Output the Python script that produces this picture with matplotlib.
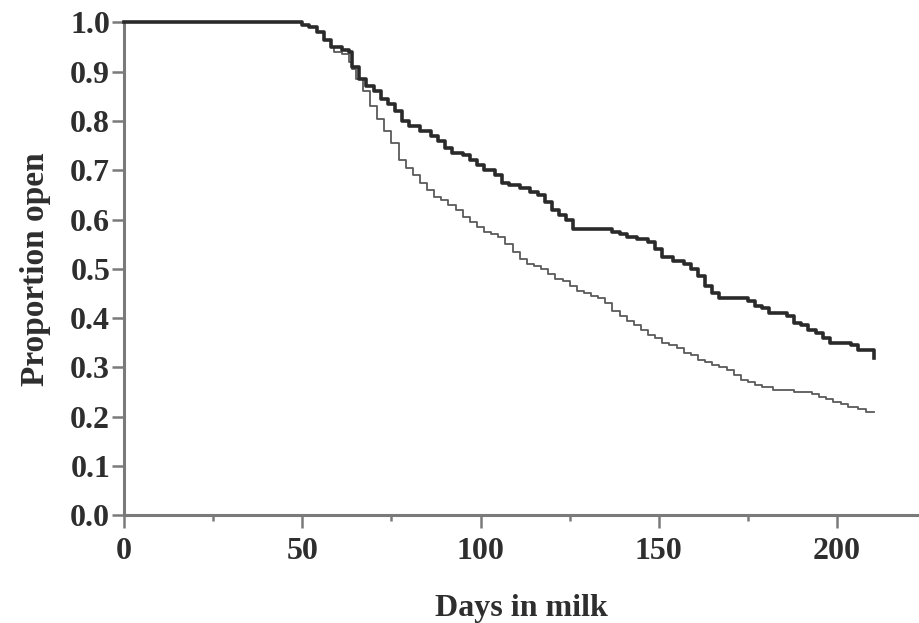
import matplotlib
matplotlib.use("Agg")
import matplotlib.pyplot as plt
from matplotlib.ticker import MultipleLocator

# Kaplan-Meier style curves (days in milk, proportion open)
thick_days = [0, 48, 50, 52, 54, 56, 58, 61, 63, 64, 66, 68, 70, 72, 74, 76, 78, 80,
              83, 86, 88, 90, 92, 95, 97, 99, 101, 104, 106, 108, 111, 114, 116, 118,
              120, 122, 124, 126, 129, 132, 135, 137, 139, 141, 144, 147, 149, 151,
              154, 157, 159, 161, 163, 165, 167, 170, 173, 175, 177, 179, 181, 184,
              186, 188, 190, 192, 194, 196, 198, 200, 202, 204, 206, 210, 210.5]
thick_prop = [1.0, 1.0, 0.995, 0.99, 0.98, 0.965, 0.95, 0.945, 0.94, 0.91, 0.885, 0.87,
              0.86, 0.845, 0.835, 0.82, 0.80, 0.79, 0.78, 0.77, 0.76, 0.745, 0.735,
              0.73, 0.72, 0.71, 0.70, 0.69, 0.675, 0.67, 0.665, 0.655, 0.65, 0.635,
              0.62, 0.61, 0.60, 0.58, 0.58, 0.58, 0.58, 0.575, 0.57, 0.565, 0.56,
              0.555, 0.54, 0.525, 0.515, 0.51, 0.50, 0.485, 0.465, 0.45, 0.44, 0.44,
              0.44, 0.435, 0.425, 0.42, 0.41, 0.41, 0.405, 0.39, 0.385, 0.375, 0.37,
              0.36, 0.35, 0.35, 0.35, 0.345, 0.335, 0.335, 0.32]

thin_days = [0, 48, 50, 52, 54, 56, 58, 59, 61, 63, 64, 65, 67, 69, 71, 73, 75, 77, 79,
             81, 83, 85, 87, 89, 91, 93, 95, 97, 99, 101, 103, 105, 107, 109, 111, 113,
             115, 117, 119, 121, 123, 125, 127, 129, 131, 133, 135, 137, 139, 141, 143,
             145, 147, 149, 151, 153, 155, 157, 159, 161, 163, 165, 167, 169, 171, 173,
             175, 177, 179, 182, 185, 188, 191, 193, 195, 197, 199, 201, 203, 206, 208,
             210.5]
thin_prop = [1.0, 1.0, 0.995, 0.99, 0.98, 0.965, 0.95, 0.94, 0.935, 0.92, 0.905, 0.885,
             0.86, 0.83, 0.805, 0.78, 0.755, 0.72, 0.705, 0.69, 0.675, 0.66, 0.645,
             0.64, 0.63, 0.62, 0.605, 0.595, 0.585, 0.575, 0.57, 0.565, 0.55, 0.535,
             0.52, 0.51, 0.505, 0.50, 0.49, 0.48, 0.475, 0.465, 0.455, 0.45, 0.445,
             0.44, 0.43, 0.415, 0.405, 0.395, 0.385, 0.375, 0.365, 0.36, 0.35, 0.345,
             0.34, 0.33, 0.325, 0.315, 0.31, 0.305, 0.30, 0.295, 0.285, 0.275, 0.27,
             0.265, 0.26, 0.255, 0.255, 0.25, 0.25, 0.245, 0.24, 0.235, 0.23, 0.225,
             0.22, 0.215, 0.21, 0.21]

x_ticks = [0, 50, 100, 150, 200]
y_ticks = [0.0, 0.1, 0.2, 0.3, 0.4, 0.5, 0.6, 0.7, 0.8, 0.9, 1.0]

plt.rcParams["font.family"] = ["Liberation Serif", "DejaVu Serif"]
plt.rcParams["font.weight"] = "bold"

fig = plt.figure(figsize=(9.19, 6.23), dpi=100)
ax = fig.add_axes([0.135, 0.173, 0.865, 0.791])

ax.plot(thin_days, thin_prop, drawstyle="steps-post", color="#5a5a5a", lw=1.3,
        clip_on=False, zorder=3)
ax.plot(thick_days, thick_prop, drawstyle="steps-post", color="#2a2a2a", lw=2.6,
        clip_on=False, zorder=4)

ax.set_xlim(0, 223)
ax.set_ylim(0, 1.0)

for side in ("top", "right"):
    ax.spines[side].set_visible(False)
for side in ("left", "bottom"):
    ax.spines[side].set_color("#7a7a7a")
    ax.spines[side].set_linewidth(2.2)

ax.set_xticks(x_ticks)
ax.set_xticklabels([str(t) for t in x_ticks])
ax.xaxis.set_minor_locator(MultipleLocator(25))
ax.set_yticks(y_ticks)
ax.set_yticklabels([f"{t:.1f}" for t in y_ticks])

ax.tick_params(axis="both", which="major", direction="out", length=9, width=1.8,
               color="#7a7a7a", labelsize=23, labelcolor="#2e2e2e")
ax.tick_params(axis="x", which="minor", direction="out", length=4.5, width=1.8,
               color="#7a7a7a")
ax.tick_params(axis="x", which="major", pad=7)
ax.tick_params(axis="y", which="major", pad=1)

ax.set_xlabel("Days in milk", fontsize=23, fontweight="bold", color="#2e2e2e", labelpad=20)
ax.set_ylabel("Proportion open", fontsize=24, fontweight="bold", color="#2e2e2e", labelpad=14)

fig.savefig("out.png", dpi=100)
